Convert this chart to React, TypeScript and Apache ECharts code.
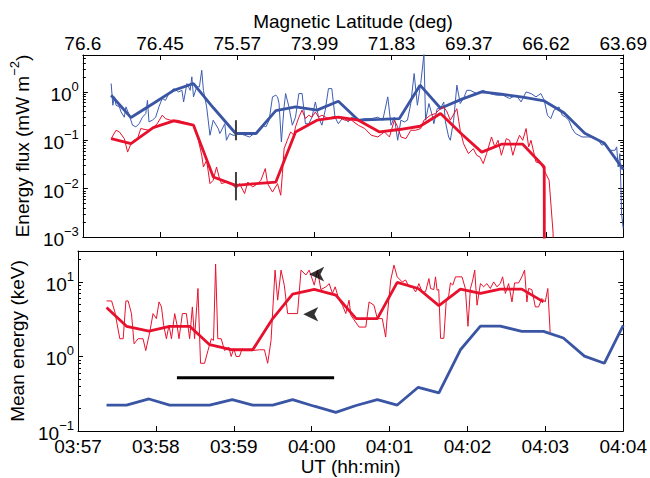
import React, { useEffect, useRef } from 'react';
import * as echarts from 'echarts';

// ---------- tick labels ----------
const timeLabels = ['03:57', '03:58', '03:59', '04:00', '04:01', '04:02', '04:03', '04:04'];
const latitudeLabels = ['76.6', '76.45', '75.57', '73.99', '71.83', '69.37', '66.62', '63.69'];

// ---------- time grid of the smoothed curves (seconds after 03:57:00) ----------
const smoothTimes = [22.0, 37.4, 54.7, 70.6, 86.0, 101.4, 118.8, 134.6, 150.0, 165.3, 182.0, 198.6, 214.2,
  230.6, 245.9, 262.1, 278.0, 294.6, 310.0, 325.3, 341.9, 358.6, 373.9, 390.1, 405.4, 420.0];

// ---------- top panel: energy flux (mW m^-2) ----------
const fluxBlueSmooth = [0.855, 0.295, 0.575, 1.08, 1.49, 0.47, 0.138, 0.138, 0.41, 0.49, 0.42, 0.64, 0.26,
  0.27, 0.28, 1.38, 0.46, 0.71, 1.0, 0.9, 0.78, 0.65, 0.37, 0.14, 0.087, 0.025];

const fluxRedSmoothTimes = [22.0, 37.4, 54.7, 70.6, 86.0, 101.4, 118.8, 134.6, 150.0, 165.3, 182.0, 198.6, 214.2,
  230.6, 245.9, 262.1, 278.0, 294.6, 310.0, 325.3, 341.9, 358.6, 359.0];
const fluxRedSmooth = [0.108, 0.085, 0.183, 0.251, 0.205, 0.0174, 0.0117, 0.0127, 0.0137, 0.149, 0.26, 0.30,
  0.26, 0.149, 0.167, 0.195, 0.357, 0.133, 0.057, 0.083, 0.083, 0.028, 1e-9];

const fluxBlueTimes = [22.0, 23.3, 24.6, 25.8, 28.4, 29.7, 32.2, 33.5, 36.1, 38.6, 41.2, 43.8, 46.3, 48.9, 50.2,
  51.4, 54.0, 56.6, 59.1, 61.7, 64.2, 66.8, 70.6, 74.5, 77.0, 78.3, 80.9, 83.4, 84.7, 86.0, 88.5, 90.6, 92.4,
  93.7, 96.2, 98.8, 101.3, 105.2, 106.5, 110.3, 111.6, 114.1, 116.7, 119.2, 121.8, 125.7, 129.5, 133.3, 135.9,
  139.7, 142.3, 144.8, 147.4, 150.0, 151.3, 152.5, 154.3, 156.4, 157.6, 160.2, 162.8, 165.3, 167.9, 170.4,
  173.0, 175.6, 178.1, 180.7, 183.2, 185.8, 188.4, 190.9, 193.5, 196.0, 198.6, 202.4, 206.3, 208.8, 214.0,
  219.1, 224.2, 229.3, 233.1, 237.0, 239.5, 242.1, 244.7, 247.2, 249.8, 252.3, 254.9, 257.5, 260.0, 262.6,
  265.1, 266.4, 269.0, 271.5, 272.8, 275.4, 277.9, 280.5, 281.8, 284.3, 285.6, 288.2, 290.7, 293.3, 295.9,
  298.4, 301.0, 306.1, 311.2, 316.3, 321.5, 326.6, 331.7, 336.8, 340.6, 344.5, 348.3, 352.2, 356.0, 358.6,
  361.1, 363.7, 366.2, 370.1, 372.6, 375.2, 377.7, 380.3, 382.9, 388.0, 393.1, 396.9, 400.8, 403.3, 405.9,
  409.7, 413.6, 414.9, 416.1, 417.4, 418.2, 418.7, 420.0];
const fluxBlue = [1.49, 0.53, 0.79, 0.53, 0.49, 0.385, 0.30, 0.49, 0.33, 0.205, 0.19, 0.22, 0.30, 0.357, 0.67,
  0.24, 0.26, 0.30, 0.49, 0.73, 0.67, 0.925, 1.17, 1.0, 1.08, 0.62, 1.49, 1.08, 2.05, 0.79, 1.27, 1.27, 2.81,
  1.08, 0.49, 0.127, 0.26, 0.175, 0.138, 0.22, 0.100, 0.138, 0.127, 0.127, 0.138, 0.127, 0.117, 0.138, 0.149,
  0.205, 0.19, 0.26, 0.79, 0.855, 0.79, 0.575, 0.092, 0.49, 0.925, 0.49, 0.205, 0.30, 0.925, 0.925,
  0.22, 0.22, 0.30, 0.62, 0.30, 0.205, 0.42, 1.17, 1.17, 0.30, 0.22, 0.30, 0.24, 0.30, 0.26,
  0.28, 0.28, 0.30, 0.26, 0.79, 0.205, 0.30, 0.100, 0.26, 0.24, 0.26, 0.575, 2.40, 0.53, 1.49,
  6.0, 0.26, 0.575, 0.33, 0.22, 0.45, 0.45, 0.62, 0.24, 0.117, 0.100, 0.26, 1.38, 0.575, 0.73,
  1.08, 1.08, 0.925, 1.08, 0.925, 0.855, 0.855, 0.73, 0.855, 0.62, 1.0, 0.925, 0.79, 0.925, 0.67,
  0.33, 0.28, 0.42, 0.49, 0.33, 0.30, 0.26, 0.175, 0.138, 0.117, 0.117, 0.117, 0.100, 0.079, 0.085,
  0.062, 0.062, 0.073, 0.028, 0.053, 0.0108, 0.0030, 0.0015];

const fluxRedTimes = [22.0, 25.8, 28.4, 32.2, 34.8, 37.4, 39.9, 42.5, 45.0, 51.4, 55.3, 57.8, 61.7, 64.2, 68.1,
  73.2, 78.3, 83.4, 86.0, 89.8, 92.4, 93.7, 96.2, 98.8, 101.3, 103.9, 105.9, 107.7, 111.6, 115.4, 119.2, 121.8,
  125.7, 128.2, 132.0, 135.9, 138.4, 141.8, 143.6, 147.4, 151.3, 153.8, 155.1, 156.4, 158.9, 161.5, 164.0,
  165.3, 167.9, 170.4, 173.0, 175.6, 178.1, 180.7, 183.2, 185.8, 190.9, 194.8, 198.6, 203.7, 208.8, 214.0,
  219.1, 224.2, 229.3, 234.4, 238.3, 242.1, 244.7, 247.2, 251.1, 254.9, 258.7, 262.6, 265.1, 270.2, 274.1,
  276.7, 280.5, 283.1, 285.6, 290.7, 293.3, 295.9, 299.7, 303.5, 306.1, 308.7, 311.2, 313.8, 317.6, 320.2,
  322.7, 325.3, 329.1, 331.7, 334.2, 336.8, 339.4, 341.9, 344.5, 346.5, 348.3, 352.2, 356.0, 359.8, 362.4,
  365.5, 366.5];
const fluxRed = [0.108, 0.161, 0.149, 0.108, 0.057, 0.085, 0.100, 0.108, 0.175, 0.161, 0.19, 0.22, 0.33, 0.28,
  0.26, 0.26, 0.24, 0.22, 0.195, 0.100, 0.049, 0.028, 0.0385, 0.0127, 0.0149, 0.028, 0.0174, 0.0127, 0.0137,
  0.0127, 0.0100, 0.0127, 0.0079, 0.0137, 0.0108, 0.0127, 0.0149, 0.026, 0.0127, 0.0085, 0.0127, 0.0073,
  0.0205, 0.067, 0.100, 0.149, 0.127, 0.19, 0.30, 0.42, 0.28, 0.33, 0.30, 0.385, 0.30, 0.33, 0.28, 0.31,
  0.30, 0.26, 0.26, 0.205, 0.175, 0.127, 0.117, 0.149, 0.117, 0.26, 0.19, 0.117, 0.108, 0.161, 0.161, 0.175,
  0.26, 0.33, 0.357, 0.42, 0.49, 0.385, 0.26, 0.45, 0.161, 0.085, 0.053, 0.067, 0.049, 0.045, 0.033, 0.053,
  0.117, 0.073, 0.100, 0.049, 0.108, 0.100, 0.049, 0.085, 0.127, 0.100, 0.175, 0.073, 0.100, 0.0356, 0.033,
  0.0205, 0.0149, 0.0012, 1e-9];

// ---------- bottom panel: mean energy (keV) ----------
const energyBlueSmooth = [0.223, 0.223, 0.269, 0.223, 0.223, 0.223, 0.263, 0.223, 0.223, 0.263, 0.215, 0.178,
  0.22, 0.263, 0.223, 0.386, 0.324, 1.23, 2.56, 2.56, 2.17, 2.17, 1.77, 1.01, 0.81, 2.62];
const energyRedSmooth = [4.53, 2.54, 2.19, 2.54, 2.54, 1.44, 1.23, 1.23, 3.22, 6.85, 7.93, 6.64, 3.22, 3.22,
  9.85, 8.17, 4.8, 8.0, 7.0, 8.0, 8.0, 5.4];

const energyRedTimes = [22.0, 25.9, 28.4, 32.2, 34.8, 36.9, 38.6, 41.2, 43.2, 46.3, 50.1, 52.2, 55.3, 57.8, 60.4,
  62.4, 64.3, 66.0, 68.1, 70.1, 72.0, 74.5, 76.3, 77.8, 80.4, 83.5, 86.0, 88.1, 89.8, 92.4, 94.4, 97.5, 100.1,
  102.7, 104.4, 106.0, 107.7, 110.3, 112.9, 116.2, 118.0, 120.0, 121.8, 124.4, 126.4, 129.0, 134.6, 139.7,
  143.6, 146.1, 148.7, 151.8, 153.8, 156.4, 158.9, 161.5, 169.1, 171.8, 175.6, 178.1, 182.0, 184.5, 187.1,
  191.0, 193.5, 196.0, 198.1, 201.2, 203.7, 206.3, 208.8, 210.2, 216.5, 221.7, 224.2, 228.0, 230.6, 234.4,
  237.0, 238.3, 240.9, 243.4, 245.9, 249.8, 252.4, 254.9, 257.5, 260.1, 262.6, 265.1, 267.7, 270.3, 271.6,
  274.1, 275.4, 276.6, 277.9, 279.3, 281.8, 283.6, 285.6, 286.9, 288.7, 290.8, 295.8, 298.4, 300.4, 302.3,
  304.1, 305.6, 307.4, 310.0, 312.5, 315.0, 317.6, 320.2, 322.7, 325.3, 327.1, 329.2, 331.7, 334.3, 336.3,
  339.4, 341.9, 344.0, 345.8, 347.1, 349.6, 352.3, 354.8, 357.4, 359.9, 361.9, 363.7];
const energyRed = [5.56, 5.56, 3.95, 1.73, 1.73, 5.56, 5.56, 3.76, 1.48, 1.73, 1.73, 1.20, 2.13, 3.76, 3.22,
  5.39, 4.62, 2.62, 1.73, 2.62, 1.73, 3.76, 2.62, 1.73, 3.76, 3.76, 1.73, 4.62, 1.73, 8.17, 0.81, 0.81, 1.20,
  1.73, 1.64, 17.4, 1.73, 1.73, 1.20, 1.33, 1.0, 1.27, 1.0, 1.0, 1.27, 1.20, 1.20, 1.23,
  1.23, 0.81, 1.64, 14.4, 5.69, 14.4, 9.06, 3.76, 3.76, 14.4, 12.4, 14.4, 9.06, 14.4, 7.9,
  8.6, 9.5, 7.0, 8.6, 5.69, 4.87, 3.76, 5.69, 3.57, 2.48, 2.48, 5.39, 4.87, 3.22, 3.22,
  1.82, 3.57, 10.6, 16.8, 11.7, 10.0, 10.6, 8.6, 8.6, 7.35, 9.5, 7.35, 7.35, 11.1, 8.17,
  7.9, 11.7, 7.75, 7.9, 1.75, 1.75, 5.39, 6.64, 9.7, 9.06, 11.7, 11.7, 8.17, 2.54, 8.17,
  10.6, 14.4, 4.87, 9.5, 8.6, 9.5, 8.17, 10.0, 8.6, 9.5, 11.7, 7.0, 9.5, 5.39, 9.7,
  9.7, 11.7, 14.4, 5.39, 8.17, 7.9, 4.62, 4.62, 6.0, 5.39, 8.17, 2.13];

// ---------- annotations ----------
const markerBarTimes = [119, 119];
const markerBarUpper = [0.26, 0.10];
const markerBarLower = [0.0221, 0.00573];
const intervalBarTimes = [76.2, 197.3];
const intervalBarValues = [0.52, 0.52];
const arrowTimes = [178.1, 173.5];
const arrowValues = [12.7, 3.68];

// ---------- axis ranges ----------
const TOP_MIN = 0.001;
const TOP_MAX = 5.8;
const BOT_MIN = 0.1;
const BOT_MAX = 26;

const FONT = 'Liberation Sans';
const FS = 19;
const SUP = 13;
const RED = '#e8112d';
const BLUE = '#3a55a4';
const BLUE_THIN = '#3d5cb2';

const pairs = (ts: number[], vs: number[]) => ts.map((t, i) => [t, vs[i]]);

function minorTicks(min: number, max: number) {
  const out: number[] = [];
  for (let n = Math.floor(Math.log10(min)); n <= Math.ceil(Math.log10(max)); n++) {
    for (let k = 2; k <= 9; k++) {
      const v = k * Math.pow(10, n);
      if (v > min && v < max) out.push(Math.log10(v));
    }
  }
  return out;
}

const powLabel = (v: number) => {
  const e = Math.log10(v);
  const r = Math.round(e);
  if (Math.abs(e - r) > 1e-6) return '';
  return `{b|10}{s|${r < 0 ? '\u2212' + -r : r}}`;
};

const baseRich = { fontSize: FS, fontFamily: FONT, color: '#000', lineHeight: 24, verticalAlign: 'bottom' };
const supRich = { fontSize: SUP, fontFamily: FONT, color: '#000', lineHeight: 13, verticalAlign: 'top' };

export default function App() {
  const ref = useRef<HTMLDivElement>(null);

  useEffect(() => {
    if (!ref.current) return;
    const chart = echarts.init(ref.current, undefined, { renderer: 'svg' });

    const axisLine = { show: true, onZero: false, lineStyle: { color: '#000', width: 1 } };
    const majorTick = { show: true, inside: true, length: 5, lineStyle: { color: '#000', width: 1 } };

    const xBase = (gridIndex: number, position: string) => ({
      type: 'value',
      gridIndex,
      position,
      min: 0,
      max: 420,
      interval: 60,
      axisLine,
      axisTick: majorTick,
      splitLine: { show: false },
      axisLabel: { show: false },
    });

    const yLog = (gridIndex: number, position: string, min: number, max: number, labels: boolean) => ({
      type: 'log',
      logBase: 10,
      gridIndex,
      position,
      min,
      max,
      axisLine,
      axisTick: majorTick,
      splitLine: { show: false },
      axisLabel: labels
        ? { show: true, formatter: powLabel, rich: { b: baseRich, s: supRich }, margin: 4, fontFamily: FONT }
        : { show: false },
    });

    const yMinor = (gridIndex: number, position: string, min: number, max: number) => ({
      type: 'value',
      gridIndex,
      position,
      min: Math.log10(min),
      max: Math.log10(max),
      axisLine: { show: false, onZero: false },
      axisTick: {
        show: true,
        inside: true,
        length: 3,
        customValues: minorTicks(min, max),
        lineStyle: { color: '#000', width: 1 },
      },
      axisLabel: { show: false },
      splitLine: { show: false },
    });

    const plainName = { fontSize: FS, fontFamily: FONT, color: '#000' };
    const richName = { ...plainName, rich: { n: baseRich, s: supRich } };

    const option: any = {
      animation: false,
      backgroundColor: '#fff',
      textStyle: { fontFamily: FONT },
      grid: [
        { left: 78, top: 55, width: 547, height: 182 },
        { left: 78, top: 251, width: 547, height: 180 },
      ],
      xAxis: [
        xBase(0, 'bottom'),
        {
          ...xBase(0, 'top'),
          axisLabel: {
            show: true,
            fontSize: FS,
            fontFamily: FONT,
            color: '#000',
            margin: 2,
            formatter: (v: number) => latitudeLabels[Math.round(v / 60)] ?? '',
          },
          name: 'Magnetic Latitude (deg)',
          nameLocation: 'middle',
          nameGap: 24,
          nameTextStyle: plainName,
        },
        {
          ...xBase(1, 'bottom'),
          axisLabel: {
            show: true,
            fontSize: FS,
            fontFamily: FONT,
            color: '#000',
            margin: 6,
            formatter: (v: number) => timeLabels[Math.round(v / 60)] ?? '',
          },
          name: 'UT (hh:min)',
          nameLocation: 'middle',
          nameGap: 26,
          nameTextStyle: plainName,
        },
        xBase(1, 'top'),
      ],
      yAxis: [
        {
          ...yLog(0, 'left', TOP_MIN, TOP_MAX, true),
          name: '{n|Energy flux (mW m}{s|\u22122}{n|)}',
          nameLocation: 'middle',
          nameGap: 43,
          nameTextStyle: richName,
        },
        yMinor(0, 'left', TOP_MIN, TOP_MAX),
        yLog(0, 'right', TOP_MIN, TOP_MAX, false),
        yMinor(0, 'right', TOP_MIN, TOP_MAX),
        {
          ...yLog(1, 'left', BOT_MIN, BOT_MAX, true),
          name: 'Mean energy (keV)',
          nameLocation: 'middle',
          nameGap: 46,
          nameTextStyle: plainName,
        },
        yMinor(1, 'left', BOT_MIN, BOT_MAX),
        yLog(1, 'right', BOT_MIN, BOT_MAX, false),
        yMinor(1, 'right', BOT_MIN, BOT_MAX),
      ],
      series: [
        {
          type: 'line', xAxisIndex: 0, yAxisIndex: 0, data: pairs(fluxBlueTimes, fluxBlue),
          symbol: 'none', silent: true, lineStyle: { color: BLUE_THIN, width: 1 }, z: 2,
        },
        {
          type: 'line', xAxisIndex: 0, yAxisIndex: 0, data: pairs(smoothTimes, fluxBlueSmooth),
          symbol: 'none', silent: true, lineStyle: { color: BLUE, width: 2.8 }, z: 3,
        },
        {
          type: 'line', xAxisIndex: 0, yAxisIndex: 0, data: pairs(fluxRedTimes, fluxRed),
          symbol: 'none', silent: true, lineStyle: { color: RED, width: 1 }, z: 4,
        },
        {
          type: 'line', xAxisIndex: 0, yAxisIndex: 0, data: pairs(fluxRedSmoothTimes, fluxRedSmooth),
          symbol: 'none', silent: true, lineStyle: { color: RED, width: 2.8 }, z: 5,
        },
        {
          type: 'line', xAxisIndex: 0, yAxisIndex: 0, data: pairs(markerBarTimes, markerBarUpper),
          symbol: 'none', silent: true, lineStyle: { color: '#404040', width: 2 }, z: 6,
        },
        {
          type: 'line', xAxisIndex: 0, yAxisIndex: 0, data: pairs(markerBarTimes, markerBarLower),
          symbol: 'none', silent: true, lineStyle: { color: '#404040', width: 2 }, z: 6,
        },
        {
          type: 'line', xAxisIndex: 2, yAxisIndex: 4, data: pairs(energyRedTimes, energyRed),
          symbol: 'none', silent: true, lineStyle: { color: RED, width: 1 }, z: 4,
        },
        {
          type: 'line', xAxisIndex: 2, yAxisIndex: 4,
          data: pairs(smoothTimes.slice(0, energyRedSmooth.length), energyRedSmooth),
          symbol: 'none', silent: true, lineStyle: { color: RED, width: 2.8 }, z: 5,
        },
        {
          type: 'line', xAxisIndex: 2, yAxisIndex: 4, data: pairs(smoothTimes, energyBlueSmooth),
          symbol: 'none', silent: true, lineStyle: { color: BLUE, width: 2.8 }, z: 3,
        },
        {
          type: 'line', xAxisIndex: 2, yAxisIndex: 4, data: pairs(intervalBarTimes, intervalBarValues),
          symbol: 'none', silent: true, lineStyle: { color: '#000', width: 3 }, z: 6,
        },
        {
          type: 'scatter', xAxisIndex: 2, yAxisIndex: 4, data: pairs(arrowTimes, arrowValues),
          symbol: 'arrow', symbolSize: [11, 15], symbolRotate: 90, silent: true,
          itemStyle: { color: '#000' }, z: 7,
        },
      ],
    };

    chart.setOption(option);
    return () => chart.dispose();
  }, []);

  return (
    <div
      ref={ref}
      style={{ position: 'fixed', left: 0, top: 0, width: 650, height: 478, background: '#fff' }}
    />
  );
}
